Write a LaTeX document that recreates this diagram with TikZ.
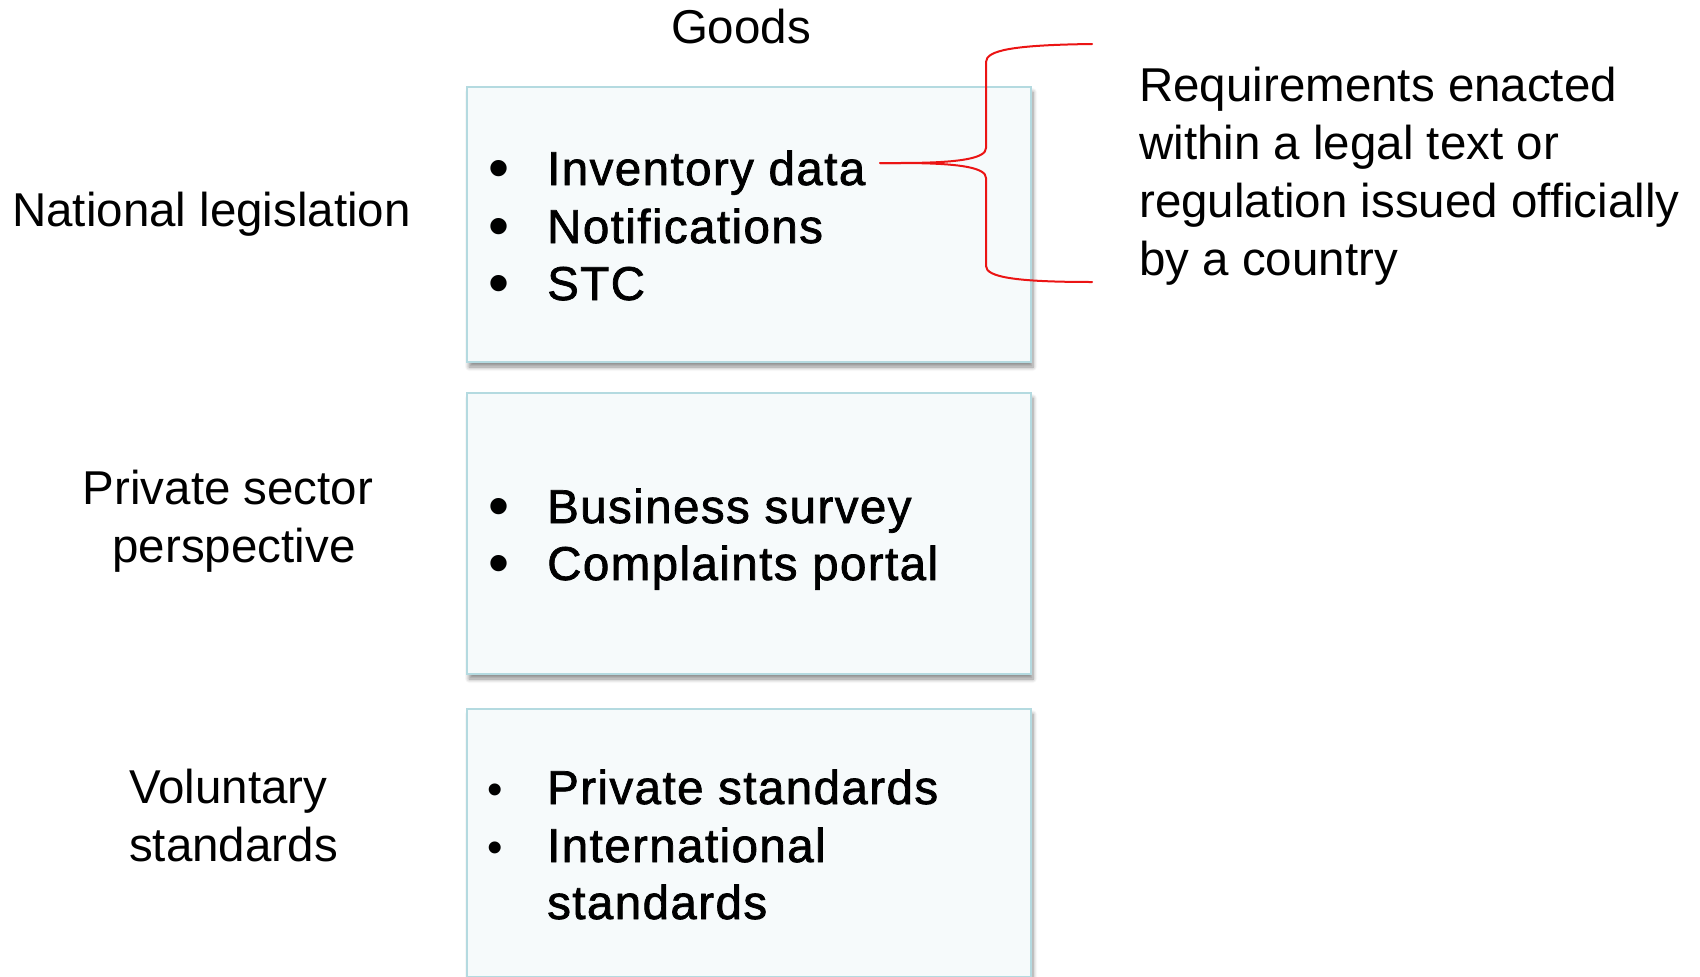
\documentclass[tikz,border=0pt]{standalone}
\usepackage{fontspec}
\setmainfont{Liberation Sans}
\newfontfamily\medfont[FakeBold=1.5,LetterSpace=3]{Liberation Sans}
\usetikzlibrary{shadows.blur}
\definecolor{boxfill}{RGB}{246,250,251}
\definecolor{boxline}{RGB}{180,218,224}
\definecolor{bracered}{RGB}{235,20,20}
\tikzset{
  box/.style={draw=boxline, fill=boxfill, line width=2pt, rectangle, inner sep=0pt,
    blur shadow={shadow xshift=2pt, shadow yshift=-5pt, shadow blur steps=6, shadow opacity=45, shadow blur radius=4pt}},
  lbl/.style={font=\fontsize{47.5}{57}\selectfont, inner sep=0pt, anchor=base},
  lblw/.style={lbl, anchor=base west},
  itm/.style={font=\medfont\fontsize{47.5}{57}\selectfont, inner sep=0pt, anchor=base west},
  bigbul/.style={font=\fontsize{60}{60}\selectfont, inner sep=0pt, anchor=base},
  smallbul/.style={font=\fontsize{44}{44}\selectfont, inner sep=0pt, anchor=base},
  bracestyle/.style={draw=bracered, line width=2pt, line cap=round, line join=round}
}
\begin{document}
\begin{tikzpicture}[x=1pt,y=-1pt]
\useasboundingbox (0,0) rectangle (1700,977);

% boxes
\node[box, minimum width=564pt, minimum height=275pt] (b1) at (749,224.5) {};
\node[box, minimum width=564pt, minimum height=281pt] (b2) at (749,533.5) {};
\node[box, minimum width=564pt, minimum height=268pt] (b3) at (749,843) {};

% heading
\node[lbl] (goods) at (741,43) {Goods};

% left labels
\node[lblw] (nl) at (12,226) {National legislation};
\node[lbl] (ps1) at (228,504) {Private sector};
\node[lbl] (ps2) at (234,562) {perspective};
\node[lblw] (vs1) at (129,803) {Voluntary};
\node[lblw] (vs2) at (129,861) {standards};

% box 1 items
\node[bigbul] (bu1) at (499,188) {•};
\node[bigbul] (bu2) at (499,246) {•};
\node[bigbul] (bu3) at (499,303) {•};
\node[itm] (i1) at (547,185) {Inventory data};
\node[itm] (i2) at (547,243) {Notifications};
\node[itm] (i3) at (547,300) {STC};

% box 2 items
\node[bigbul] (bu4) at (499,526) {•};
\node[bigbul] (bu5) at (499,583) {•};
\node[itm] (i4) at (547,523) {Business survey};
\node[itm] (i5) at (547,580) {Complaints portal};

% box 3 items
\node[smallbul] (bu6) at (495,804) {•};
\node[smallbul] (bu7) at (495,862) {•};
\node[itm] (i6) at (547,804) {Private standards};
\node[itm] (i7) at (547,862) {International};
\node[itm] (i8) at (547,919) {standards};

% right explanation
\node[lblw] (r1) at (1139,101) {Requirements enacted};
\node[lblw] (r2) at (1139,159) {within a legal text or};
\node[lblw] (r3) at (1139,217) {regulation issued officially};
\node[lblw] (r4) at (1139,275) {by a country};

% brace
\coordinate (tip) at (880,163);
\coordinate (btop) at (1092,44);
\coordinate (bbot) at (1092,282);
\draw[bracestyle] (tip) -- (900,163) .. controls (962,163) and (986,158) .. (986,148)
  -- (986,62) .. controls (986,50) and (1015,45) .. (btop);
\draw[bracestyle] (tip) -- (900,163) .. controls (962,163) and (986,168) .. (986,178)
  -- (986,266) .. controls (986,277) and (1015,282) .. (bbot);
\end{tikzpicture}
\end{document}
